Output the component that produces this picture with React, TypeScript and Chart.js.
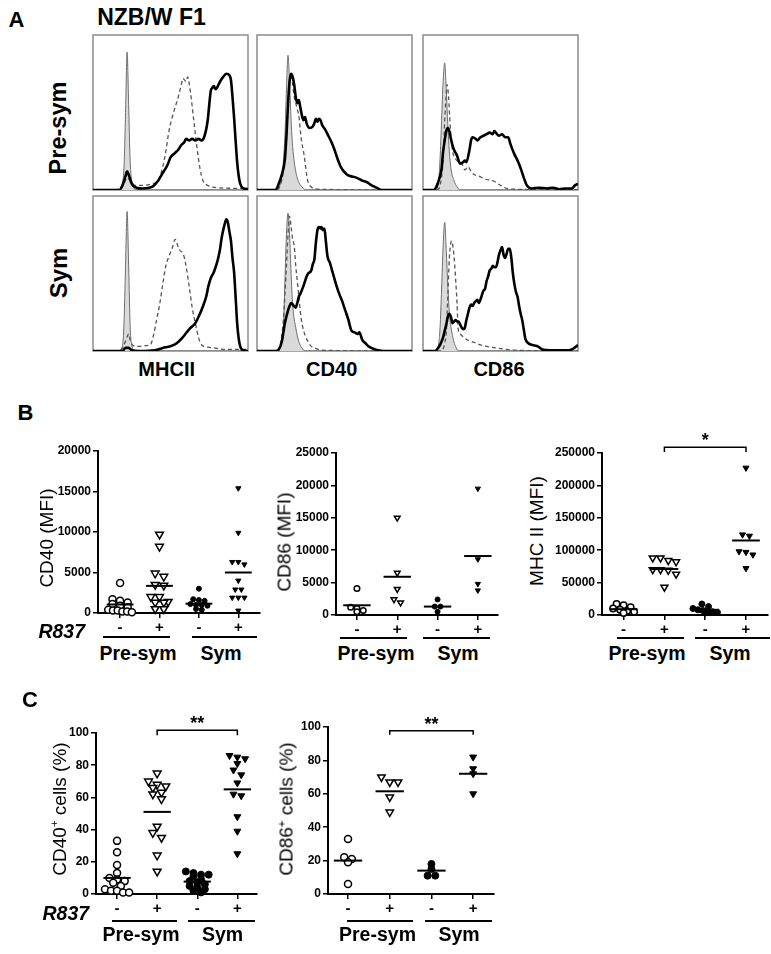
import React, { useEffect, useRef } from 'react';
import { Chart, registerables } from 'chart.js';
Chart.register(...registerables);

const FONT = "'Liberation Sans', Arial, Helvetica, sans-serif";

type Pair = [number, number];

// ---------------- Panel A: histograms (x: % of channel range, y: % of max count) ----------------
const mhcPreIso: Pair[] = [[0,0],[16,0],[18,2],[20,15],[21,50],[22,89],[23,55],[24,18],[26,3],[28,0],[100,0]];
const mhcPreCtrl: Pair[] = [[0,0],[17,0.5],[20,4],[22,8],[24,6],[27,3],[32,3],[38,4],[42,6],[45,15],[47,25],[49,38],[52,50],[55,60],[57,68],[58,72],[60,70],[61,73],[63,62],[65,45],[67,28],[69,14],[71,6],[74,3],[80,1.5],[100,1]];
const mhcPreR837: Pair[] = [[0,0],[17,0],[19,3],[21,9],[22,12],[23,10],[25,4],[28,1.5],[32,1],[38,2],[42,6],[45,11],[48,16],[50,21],[53,24],[55,26],[57,29],[59,31],[60,33],[62,32],[64,33],[66,32],[68,33],[70,32],[72,35],[74,45],[75,55],[76,64],[77,66],[78,67],[79,65],[80,66],[82,70],[84,73],[86,75],[88,74],[89,71],[90,60],[91,47],[92,32],[93,18],[94,9],[95,4],[97,1],[100,0.5]];

const cd40PreIso: Pair[] = [[0,0],[12,0],[14,2],[16,8],[18,35],[19,65],[20,87],[21,70],[22,45],[23,28],[25,12],[27,5],[29,2],[32,0],[100,0]];
const cd40PreCtrl: Pair[] = [[0,0],[13,0],[15,3],[17,12],[19,35],[20,55],[21,72],[22,75],[23,68],[24,60],[25,56],[26,52],[27,48],[28,38],[29,30],[30,25],[31,18],[32,10],[33,5],[35,2],[40,0.5],[100,0]];
const cd40PreR837: Pair[] = [[0,0],[12,0],[14,4],[16,10],[18,20],[19,35],[20,55],[21,70],[22,75],[23,73],[24,68],[25,60],[26,56],[27,58],[28,53],[29,48],[30,45],[31,47],[32,43],[34,40],[36,41],[37,43],[38,46],[39,44],[40,46],[41,45],[42,42],[44,39],[46,35],[48,31],[50,26],[52,20],[54,15],[56,12],[58,10],[60,9],[64,8],[68,6],[71,5],[74,3],[76,2],[78,1],[80,0],[100,0]];

const cd86PreIso: Pair[] = [[0,0],[8,0],[10,5],[11,20],[12,45],[13,70],[14,82],[15,65],[16,42],[17,25],[18,14],[20,6],[22,2],[24,0],[100,0]];
const cd86PreCtrl: Pair[] = [[0,0],[9,0],[11,3],[13,20],[14,45],[15,62],[15.5,68],[16.5,60],[17.5,42],[18.5,30],[19.5,23],[21,20],[23,18],[25,17],[27,13],[29,15],[31,12],[33,10],[36,9],[40,7],[45,6],[50,3],[54,1],[60,0.5],[100,0]];
const cd86PreR837: Pair[] = [[0,0],[7,0],[9,3],[11,9],[12,14],[13,25],[14,32],[15,38],[16,40],[17,38],[18,33],[19,29],[20,26],[22,22],[24,17],[26,18],[27,19],[28,18],[30,26],[31,32],[32,34],[34,33],[35,32],[37,34],[39,35],[41,36],[43,37],[45,36],[46,38],[47,37],[49,35],[51,36],[53,34],[55,34],[56,31],[57,28],[59,23],[61,19],[63,14],[65,8],[67,3],[70,1],[75,1.5],[80,1],[84,1.5],[88,0.5],[92,1],[96,1],[98,3],[100,4]];

const mhcSymIso: Pair[] = [[0,0],[17,0],[19,3],[20,18],[21,55],[22,90],[23,55],[24,15],[25,4],[27,0],[100,0]];
const mhcSymCtrl: Pair[] = [[0,0],[17,0],[20,4],[22,9],[23,11],[24,7],[26,3.5],[30,3],[34,3.5],[37,4],[39,10],[41,20],[43,30],[45,43],[47,55],[49,61],[51,66],[53,72],[55,67],[56,65],[58,63],[59,60],[60,55],[62,42],[64,28],[66,18],[68,9],[70,4],[74,2.5],[78,2],[85,1],[100,1]];
const mhcSymR837: Pair[] = [[0,0],[19,0],[21,2],[23,2],[25,0.5],[30,0],[40,0.5],[45,2],[50,3],[54,5],[58,9],[62,14],[66,18],[69,24],[71,29],[73,35],[74.5,42],[76,47],[78,51],[80,57],[81,61],[82,66],[83,73],[84,78],[85,82],[86,85],[87,83],[88,77],[89,71],[90,60],[91,51],[92,35],[93,18],[94,8],[95,3],[96,1],[100,0]];

const cd40SymIso: Pair[] = [[0,0],[13,0],[15,3],[17,15],[18,45],[19,75],[20,89],[21,75],[22,50],[23,30],[25,15],[27,6],[29,2],[31,0],[100,0]];
const cd40SymCtrl: Pair[] = [[0,0],[13,0],[15,4],[17,20],[19,55],[20,75],[21,87],[22,80],[23,72],[24,68],[25,55],[26,45],[27,35],[28,25],[29,18],[31,10],[33,6],[35,3],[37,2],[42,0.5],[100,0]];
const cd40SymR837: Pair[] = [[0,0],[12,0],[14,1],[16,6],[17,12],[18,18],[20,26],[21,29],[22,31],[23,30],[25,28],[26,31],[27,35],[28,37],[30,42],[32,48],[33,50],[35,52],[36,56],[37,59],[38,70],[39,78],[40,80],[41,79],[41.5,80],[42.5,78],[43.5,79],[44.5,70],[45.5,61],[47,57],[49,50],[51,43],[53,37],[55,32],[57,26],[59,20],[61,13],[63,12],[65,11],[66,12],[68,7],[70,5],[72,3],[75,1.5],[78,0.5],[82,0],[100,0]];

const cd86SymIso: Pair[] = [[0,0],[8,0],[10,4],[11,15],[12,40],[13,68],[14,83],[15,65],[16,42],[17,25],[19,10],[21,3],[23,0],[100,0]];
const cd86SymCtrl: Pair[] = [[0,0],[12,0],[14,5],[15,12],[16,35],[17,60],[18,70],[18.5,71],[19.5,66],[20.5,55],[21,47],[22,30],[22.6,15],[24,11],[26.5,8.6],[30,6.5],[33,5.5],[37,4],[41,3],[47,2],[54,1],[60,0.5],[100,0]];
const cd86SymR837: Pair[] = [[0,0],[8,0],[9,1],[11,4],[13,9],[14,13],[15,17],[16,22],[17,24],[18,22],[19,18],[20,19],[21,20],[22,19],[23,19],[24,17],[25,15],[26,14],[27,15],[28,20],[29,24],[30,28],[31,30],[32,29],[33,31],[34,32],[35,33],[36,31],[37,33],[38,36],[39,39],[40,40],[41,45],[42,48],[43,52],[44,53],[45,55],[46,54],[47,54],[48,57],[49,62],[50,65],[51,67],[52,62],[53,60],[54,63],[55,66],[56,66],[57,60],[58,50],[59,43],[60,38],[61,35],[62,29],[63,24],[64,20],[65,14],[66,8],[68,5],[70,4],[72,3.5],[74,3],[77,1],[82,0.5],[88,0.5],[94,0.5],[97,1.5],[99,3],[100,4]];

// ---------------- Panels B & C: groups ----------------
const groupCats = [1, 2, 3, 4];
const r837Labels = ['-', '+', '-', '+'];

const cd40MfiPreCtrl = [3700, 1700, 1500, 1300, 1100, 900, 700, 400, 300, 300, 200, 200, 100];
const cd40MfiPreR837 = [9700, 8200, 4900, 4500, 3500, 3400, 2000, 2000, 1400, 1300, 1300, 500, 500];
const cd40MfiSymCtrl = [3000, 1700, 1600, 1500, 1100, 1000, 1000, 900, 500, 400];
const cd40MfiSymR837 = [15400, 9900, 6300, 6300, 6000, 4000, 2900, 2900, 1900, 1900, 1900, 300];
const cd40MfiMean = [1050, 3350, 1150, 5000];
const cd40MfiTicks = { max: 20000, step: 5000 };

const cd86MfiPreCtrl = [4100, 1200, 1000, 700, 500];
const cd86MfiPreR837 = [15000, 6500, 4000, 2400, 1900];
const cd86MfiSymCtrl = [2400, 1300, 1300, 500];
const cd86MfiSymR837 = [19500, 8600, 4800, 3800];
const cd86MfiMean = [1500, 5900, 1300, 9100];
const cd86MfiTicks = { max: 25000, step: 5000 };

const mhcMfiPreCtrl = [17000, 15000, 12000, 10000, 8000, 6000, 5000, 3000];
const mhcMfiPreR837 = [88000, 88000, 84000, 82000, 70000, 70000, 69000, 63000, 43000];
const mhcMfiSymCtrl = [17000, 13000, 10000, 8000, 7000, 6000, 5000, 4000, 3000];
const mhcMfiSymR837 = [227000, 124000, 122000, 98000, 97000, 93000, 72000];
const mhcMfiMean = [9000, 71000, 8000, 115000];
const mhcMfiTicks = { max: 250000, step: 50000 };
const mhcMfiBracket = { from: 2, to: 4, low: 251500, high: 258700, label: '*' };

const cd40PctPreCtrl = [33, 26, 18, 13, 10, 9, 8, 7, 5, 3, 2, 2, 1, 1];
const cd40PctPreR837 = [75, 70, 68, 67, 66, 63, 62, 59, 42, 38, 35, 24, 14];
const cd40PctSymCtrl = [14, 13, 12, 12, 11, 9, 8, 7, 6, 5, 4, 3, 2, 1];
const cd40PctSymR837 = [86, 85, 84, 81, 77, 74, 69, 62, 61, 48, 39, 25];
const cd40PctMean = [10, 51, 7.7, 65];
const pctTicks = { max: 100, step: 20 };
const cd40PctBracket = { from: 2, to: 4, low: 98.6, high: 101.7, label: '**' };

const cd86PctPreCtrl = [33, 22, 21, 19, 6];
const cd86PctPreR837 = [70, 67, 67, 58, 49];
const cd86PctSymCtrl = [18, 15, 11, 11];
const cd86PctSymR837 = [82, 75, 72, 60];
const cd86PctMean = [20, 61.5, 14, 72];
const cd86PctBracket = { from: 2, to: 4, low: 95.4, high: 97.8, label: '**' };

// ---------------- helpers ----------------
const toXY = (a: Pair[]) => a.map(([x, y]) => ({ x, y }));

const framePlugin = {
  id: 'frame',
  beforeDatasetsDraw(chart: any) {
    const { ctx, chartArea: a } = chart;
    ctx.save();
    ctx.strokeStyle = '#8c8c8c';
    ctx.lineWidth = 1.5;
    ctx.strokeRect(a.left, a.top, a.right - a.left, a.bottom - a.top);
    ctx.restore();
  },
};

const bracketPlugin = {
  id: 'bracket',
  afterDatasetsDraw(chart: any, _args: any, opts: any) {
    if (!opts || opts.from === undefined) return;
    const { ctx } = chart;
    const xs = chart.scales.x, ys = chart.scales.y;
    const x1 = xs.getPixelForValue(opts.from), x2 = xs.getPixelForValue(opts.to);
    const yh = ys.getPixelForValue(opts.high), yl = ys.getPixelForValue(opts.low);
    ctx.save();
    ctx.strokeStyle = '#000';
    ctx.lineWidth = 1.5;
    ctx.beginPath();
    ctx.moveTo(x1, yl); ctx.lineTo(x1, yh); ctx.lineTo(x2, yh); ctx.lineTo(x2, yl);
    ctx.stroke();
    ctx.fillStyle = '#000';
    ctx.font = `bold 18px ${FONT}`;
    ctx.textAlign = 'center';
    ctx.textBaseline = 'middle';
    ctx.fillText(opts.label, (x1 + x2) / 2, yh - 6);
    ctx.restore();
  },
};

const HB = 155; // histogram box size
const HP = 2;

function Histogram({ x, y, iso, ctrl, stim }: { x: number; y: number; iso: Pair[]; ctrl: Pair[]; stim: Pair[] }) {
  const ref = useRef<HTMLCanvasElement>(null);
  useEffect(() => {
    const chart = new Chart(ref.current as HTMLCanvasElement, {
      type: 'line',
      data: {
        datasets: [
          { data: toXY(stim), borderColor: '#000', borderWidth: 2.6, pointRadius: 0, cubicInterpolationMode: 'monotone', fill: false, order: 0 } as any,
          { data: toXY(ctrl), borderColor: '#555', borderWidth: 1.3, borderDash: [4, 3], pointRadius: 0, cubicInterpolationMode: 'monotone', fill: false, order: 1 } as any,
          { data: toXY(iso), borderColor: '#6e6e6e', borderWidth: 1, backgroundColor: '#dadada', fill: 'origin', pointRadius: 0, cubicInterpolationMode: 'monotone', order: 2 } as any,
        ],
      },
      options: {
        animation: false,
        responsive: false,
        events: [],
        layout: { padding: HP },
        plugins: { legend: { display: false }, tooltip: { enabled: false } },
        scales: {
          x: { type: 'linear', min: 0, max: 100, display: false },
          y: { type: 'linear', min: 0, max: 100, display: false },
        },
      } as any,
      plugins: [framePlugin],
    });
    return () => chart.destroy();
  }, []);
  const s = HB + 2 * HP;
  return <canvas ref={ref} width={s} height={s} style={{ position: 'absolute', left: x - HP, top: y - HP, width: s, height: s }} />;
}

const YW = 50, PT = 30, PR = 12, XH = 24;

const markerStyles = [
  { pointStyle: 'circle', fill: '#fff', rot: 0 },
  { pointStyle: 'triangle', fill: '#fff', rot: 180 },
  { pointStyle: 'circle', fill: '#000', rot: 0 },
  { pointStyle: 'triangle', fill: '#000', rot: 180 },
];

// Column scatter layout: points closer in value than part of a marker share a row and are
// spread side by side, centred on the column, never wider than the column's band.
function swarm(values: number[], cat: number, yMax: number, plotH: number, catPx: number, diam: number) {
  const pxPerUnit = plotH / yMax;
  const sorted = [...values].sort((a, b) => b - a);
  const rows: number[][] = [];
  for (const v of sorted) {
    const row = rows[rows.length - 1];
    if (row && (row[0] - v) * pxPerUnit < diam * 0.6) row.push(v);
    else rows.push([v]);
  }
  const maxHalf = 0.3 * catPx;
  const out: { x: number; y: number }[] = [];
  for (const row of rows) {
    const n = row.length;
    const step = n > 1 ? Math.min(diam * 0.95, (2 * maxHalf) / (n - 1)) : 0;
    row.forEach((v, j) => out.push({ x: cat + ((j - (n - 1) / 2) * step) / catPx, y: v }));
  }
  return out;
}

type Geo = { x0: number; x1: number; yTop: number; yBot: number; xMin: number; xMax: number };

function Scatter({ geo, groups, means, ticks, radii, bracket }: { geo: Geo; groups: number[][]; means: number[]; ticks: { max: number; step: number }; radii: number[]; bracket?: any }) {
  const ref = useRef<HTMLCanvasElement>(null);
  const x0 = Math.round(geo.x0), x1 = Math.round(geo.x1), yTop = Math.round(geo.yTop), yBot = Math.round(geo.yBot);
  const w = x1 - x0 + YW + PR;
  const h = yBot - yTop + PT + XH;
  useEffect(() => {
    const plotH = yBot - yTop;
    const catPx = (x1 - x0) / (geo.xMax - geo.xMin);
    const datasets: any[] = [];
    groups.forEach((vals, g) => {
      const st = markerStyles[g];
      const r = radii[g];
      const diam = st.pointStyle === 'circle' ? 2 * r + 1 : 1.8 * r + 1;
      datasets.push({
        data: swarm(vals, groupCats[g], ticks.max, plotH, catPx, diam),
        pointStyle: st.pointStyle,
        pointRadius: r,
        pointBackgroundColor: st.fill,
        pointBorderColor: '#000',
        pointBorderWidth: st.fill === '#fff' ? 1.5 : 1,
        pointRotation: st.rot,
        showLine: false,
        clip: false,
        order: 1,
      });
    });
    means.forEach((m, g) => {
      datasets.push({
        data: [{ x: groupCats[g] - 0.34, y: m }, { x: groupCats[g] + 0.34, y: m }],
        showLine: true,
        borderColor: '#000',
        borderWidth: 2,
        pointRadius: 0,
        clip: false,
        order: 0,
      });
    });
    const chart = new Chart(ref.current as HTMLCanvasElement, {
      type: 'scatter',
      data: { datasets },
      options: {
        animation: false,
        responsive: false,
        events: [],
        layout: { padding: { top: PT, right: PR, left: 0, bottom: 0 } },
        plugins: { legend: { display: false }, tooltip: { enabled: false }, bracket: bracket || false },
        scales: {
          x: {
            type: 'linear',
            min: geo.xMin,
            max: geo.xMax,
            afterBuildTicks: (s: any) => { s.ticks = groupCats.map((v) => ({ value: v })); },
            afterFit: (s: any) => { s.height = XH; },
            ticks: { callback: (_v: any, i: number) => r837Labels[i], color: '#000', font: { family: FONT, size: 15, weight: 'bold' }, padding: 1, maxRotation: 0, autoSkip: false },
            grid: { display: true, drawOnChartArea: false, drawTicks: true, tickLength: 5, color: '#000', lineWidth: 1.5 },
            border: { display: true, color: '#000', width: 2 },
          },
          y: {
            type: 'linear',
            min: 0,
            max: ticks.max,
            afterFit: (s: any) => { s.width = YW; },
            ticks: { stepSize: ticks.step, callback: (v: any) => String(v), color: '#000', font: { family: FONT, size: 12, weight: 'bold' }, padding: 2 },
            grid: { display: true, drawOnChartArea: false, drawTicks: true, tickLength: 5, color: '#000', lineWidth: 1.5 },
            border: { display: true, color: '#000', width: 2 },
          },
        },
      } as any,
      plugins: [bracketPlugin],
    });
    return () => chart.destroy();
  }, []);
  return <canvas ref={ref} width={w} height={h} style={{ position: 'absolute', left: x0 - YW, top: yTop - PT, width: w, height: h }} />;
}

function Txt({ x, y, size, weight = 700, italic = false, rotate = false, children }: any) {
  return (
    <div
      style={{
        position: 'absolute', left: x, top: y,
        transform: `translate(-50%,-50%)${rotate ? ' rotate(-90deg)' : ''}`,
        fontFamily: FONT, fontSize: size, fontWeight: weight, fontStyle: italic ? 'italic' : 'normal',
        lineHeight: 1, whiteSpace: 'nowrap', color: '#000',
      }}
    >
      {children}
    </div>
  );
}

function Rule({ x1, x2, y }: { x1: number; x2: number; y: number }) {
  return <div style={{ position: 'absolute', left: x1, top: y - 1, width: x2 - x1, height: 2, background: '#000' }} />;
}

const sup = { fontSize: '0.6em', verticalAlign: 'super', lineHeight: 0 } as const;

export default function App() {
  const cols = [93, 257, 423];
  const rows = [35, 196];
  return (
    <div style={{ position: 'absolute', left: 0, top: 0, width: 771, height: 954, overflow: 'hidden', background: '#fff' }}>
      {/* Panel A */}
      <Txt x={16.5} y={19.5} size={22}>A</Txt>
      <Txt x={151.5} y={17} size={23}>NZB/W F1</Txt>
      <Txt x={58.5} y={127.5} size={23.5} rotate>Pre-sym</Txt>
      <Txt x={58.5} y={272.5} size={24} rotate>Sym</Txt>
      <Histogram x={cols[0]} y={rows[0]} iso={mhcPreIso} ctrl={mhcPreCtrl} stim={mhcPreR837} />
      <Histogram x={cols[1]} y={rows[0]} iso={cd40PreIso} ctrl={cd40PreCtrl} stim={cd40PreR837} />
      <Histogram x={cols[2]} y={rows[0]} iso={cd86PreIso} ctrl={cd86PreCtrl} stim={cd86PreR837} />
      <Histogram x={cols[0]} y={rows[1]} iso={mhcSymIso} ctrl={mhcSymCtrl} stim={mhcSymR837} />
      <Histogram x={cols[1]} y={rows[1]} iso={cd40SymIso} ctrl={cd40SymCtrl} stim={cd40SymR837} />
      <Histogram x={cols[2]} y={rows[1]} iso={cd86SymIso} ctrl={cd86SymCtrl} stim={cd86SymR837} />
      <Txt x={166.7} y={369.3} size={20}>MHCII</Txt>
      <Txt x={331.7} y={369.3} size={20}>CD40</Txt>
      <Txt x={499} y={369} size={20}>CD86</Txt>

      {/* Panel B */}
      <Txt x={25.5} y={412.5} size={22}>B</Txt>
      <Scatter
        geo={{ x0: 98, x1: 260, yTop: 451, yBot: 613, xMin: 0.44, xMax: 4.55 }}
        groups={[cd40MfiPreCtrl, cd40MfiPreR837, cd40MfiSymCtrl, cd40MfiSymR837]}
        means={cd40MfiMean} ticks={cd40MfiTicks} radii={[3.5, 4.5, 2.5, 3]}
      />
      <Scatter
        geo={{ x0: 336, x1: 498, yTop: 453, yBot: 615, xMin: 0.48, xMax: 4.5 }}
        groups={[cd86MfiPreCtrl, cd86MfiPreR837, cd86MfiSymCtrl, cd86MfiSymR837]}
        means={cd86MfiMean} ticks={cd86MfiTicks} radii={[2.8, 3.3, 2.5, 3]}
      />
      <Scatter
        geo={{ x0: 602, x1: 768, yTop: 453, yBot: 614.5, xMin: 0.47, xMax: 4.54 }}
        groups={[mhcMfiPreCtrl, mhcMfiPreR837, mhcMfiSymCtrl, mhcMfiSymR837]}
        means={mhcMfiMean} ticks={mhcMfiTicks} radii={[3.2, 4, 3, 3.5]} bracket={mhcMfiBracket}
      />
      <Txt x={45.5} y={538} size={19} weight={400} rotate>CD40 (MFI)</Txt>
      <Txt x={284} y={541.7} size={19} weight={400} rotate>CD86 (MFI)</Txt>
      <Txt x={536} y={530.8} size={19} weight={400} rotate>MHC II (MFI)</Txt>
      <Txt x={61.7} y={631.5} size={19.5} italic>R837</Txt>
      <Rule x1={103} x2={170} y={637} />
      <Rule x1={192} x2={257} y={637} />
      <Rule x1={340} x2={407} y={637.7} />
      <Rule x1={423} x2={490} y={637.7} />
      <Rule x1={617} x2={684} y={637.7} />
      <Rule x1={695} x2={770} y={637.7} />
      <Txt x={138} y={654} size={19.5}>Pre-sym</Txt>
      <Txt x={221} y={654} size={19.5}>Sym</Txt>
      <Txt x={376} y={654} size={19.5}>Pre-sym</Txt>
      <Txt x={458} y={654} size={19.5}>Sym</Txt>
      <Txt x={647} y={654} size={19.5}>Pre-sym</Txt>
      <Txt x={730} y={654} size={19.5}>Sym</Txt>

      {/* Panel C */}
      <Txt x={30} y={700} size={22}>C</Txt>
      <Scatter
        geo={{ x0: 96, x1: 257, yTop: 733, yBot: 894.3, xMin: 0.475, xMax: 4.49 }}
        groups={[cd40PctPreCtrl, cd40PctPreR837, cd40PctSymCtrl, cd40PctSymR837]}
        means={cd40PctMean} ticks={pctTicks} radii={[3.5, 4.5, 3.5, 4]} bracket={cd40PctBracket}
      />
      <Scatter
        geo={{ x0: 328, x1: 494, yTop: 727, yBot: 894.3, xMin: 0.52, xMax: 4.5 }}
        groups={[cd86PctPreCtrl, cd86PctPreR837, cd86PctSymCtrl, cd86PctSymR837]}
        means={cd86PctMean} ticks={pctTicks} radii={[3.5, 4.3, 3.5, 4]} bracket={cd86PctBracket}
      />
      <Txt x={59} y={809} size={19} weight={400} rotate>CD40<span style={sup}>+</span> cells (%)</Txt>
      <Txt x={286} y={809} size={19} weight={400} rotate>CD86<span style={sup}>+</span> cells (%)</Txt>
      <Txt x={65.8} y={914} size={19.5} italic>R837</Txt>
      <Rule x1={112} x2={177} y={921} />
      <Rule x1={188} x2={255} y={921} />
      <Rule x1={347} x2={413} y={921} />
      <Rule x1={425} x2={492} y={921} />
      <Txt x={141} y={935} size={19.5}>Pre-sym</Txt>
      <Txt x={222.5} y={935} size={19.5}>Sym</Txt>
      <Txt x={377.5} y={935} size={19.5}>Pre-sym</Txt>
      <Txt x={459} y={935} size={19.5}>Sym</Txt>
    </div>
  );
}
